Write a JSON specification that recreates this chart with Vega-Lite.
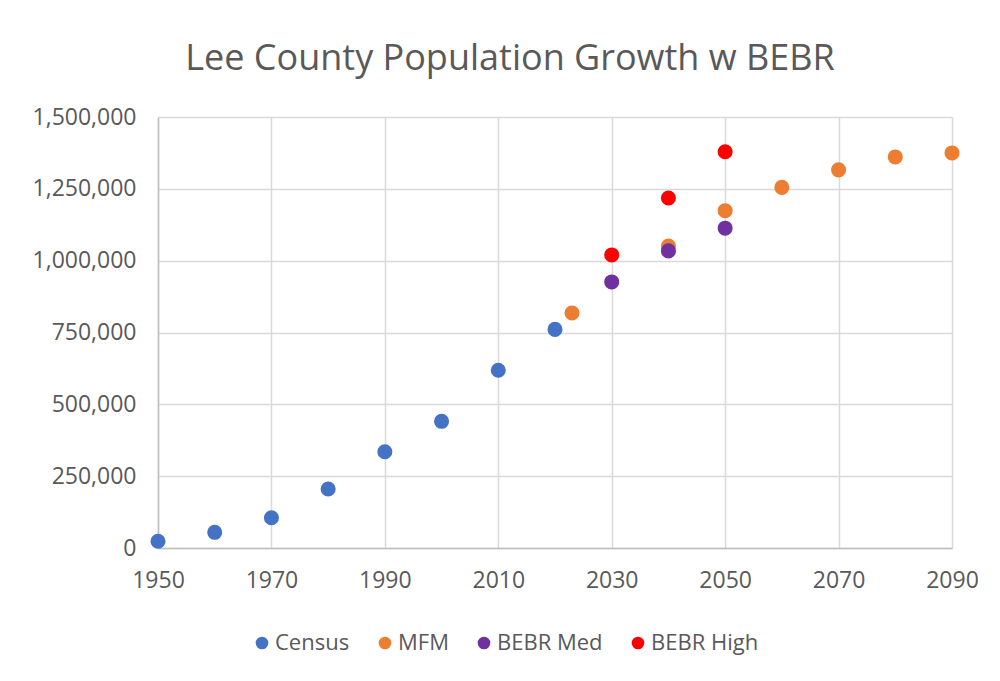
{
  "$schema": "https://vega.github.io/schema/vega-lite/v6.json",
  "width": 794,
  "height": 431,
  "autosize": {"type": "none"},
  "padding": {"left": 158, "top": 117, "right": 48, "bottom": 133},
  "background": "white",
  "title": {
    "text": "Lee County Population Growth w BEBR",
    "font": "Open Sans",
    "fontSize": 36,
    "fontWeight": "normal",
    "color": "#595959",
    "anchor": "middle",
    "dx": -45,
    "offset": 28
  },
  "data": {
    "values": [
      {"series": "Census", "year": 1950, "population": 23404},
      {"series": "Census", "year": 1960, "population": 54539},
      {"series": "Census", "year": 1970, "population": 105216},
      {"series": "Census", "year": 1980, "population": 205266},
      {"series": "Census", "year": 1990, "population": 335113},
      {"series": "Census", "year": 2000, "population": 440888},
      {"series": "Census", "year": 2010, "population": 618754},
      {"series": "Census", "year": 2020, "population": 760822},
      {"series": "MFM", "year": 2023, "population": 818000},
      {"series": "MFM", "year": 2040, "population": 1051000},
      {"series": "MFM", "year": 2050, "population": 1174000},
      {"series": "MFM", "year": 2060, "population": 1255000},
      {"series": "MFM", "year": 2070, "population": 1316000},
      {"series": "MFM", "year": 2080, "population": 1361000},
      {"series": "MFM", "year": 2090, "population": 1375000},
      {"series": "BEBR Med", "year": 2030, "population": 926000},
      {"series": "BEBR Med", "year": 2040, "population": 1034000},
      {"series": "BEBR Med", "year": 2050, "population": 1113000},
      {"series": "BEBR High", "year": 2030, "population": 1020000},
      {"series": "BEBR High", "year": 2040, "population": 1218000},
      {"series": "BEBR High", "year": 2050, "population": 1379000}
    ]
  },
  "mark": {"type": "point", "filled": true, "size": 227, "opacity": 1},
  "encoding": {
    "x": {
      "field": "year",
      "type": "quantitative",
      "scale": {"domain": [1950, 2090], "nice": false, "zero": false},
      "axis": {
        "values": [1950, 1970, 1990, 2010, 2030, 2050, 2070, 2090],
        "format": "d",
        "title": null,
        "labelPadding": 21,
        "labelFlush": false,
        "labelOverlap": false
      }
    },
    "y": {
      "field": "population",
      "type": "quantitative",
      "scale": {"domain": [0, 1500000], "nice": false},
      "axis": {
        "values": [0, 250000, 500000, 750000, 1000000, 1250000, 1500000],
        "format": ",.0f",
        "title": null,
        "labelPadding": 22,
        "labelFlush": false,
        "labelOverlap": false
      }
    },
    "color": {
      "field": "series",
      "type": "nominal",
      "scale": {
        "domain": ["Census", "MFM", "BEBR Med", "BEBR High"],
        "range": ["#4472C4", "#ED7D31", "#7030A0", "#FF0000"]
      },
      "legend": {
        "title": null,
        "orient": "none",
        "direction": "horizontal",
        "legendX": 93,
        "legendY": 515,
        "symbolType": "circle",
        "symbolSize": 160,
        "labelFont": "Open Sans",
        "labelFontSize": 22,
        "labelColor": "#595959",
        "labelOffset": 2,
        "columnPadding": 24,
        "padding": 0
      }
    }
  },
  "config": {
    "view": {"stroke": null},
    "axis": {
      "labelFont": "Open Sans",
      "labelFontSize": 23,
      "labelColor": "#595959",
      "gridColor": "#d9d9d9",
      "gridWidth": 1.5,
      "domainColor": "#bfbfbf",
      "domainWidth": 1.5,
      "ticks": false
    }
  }
}
